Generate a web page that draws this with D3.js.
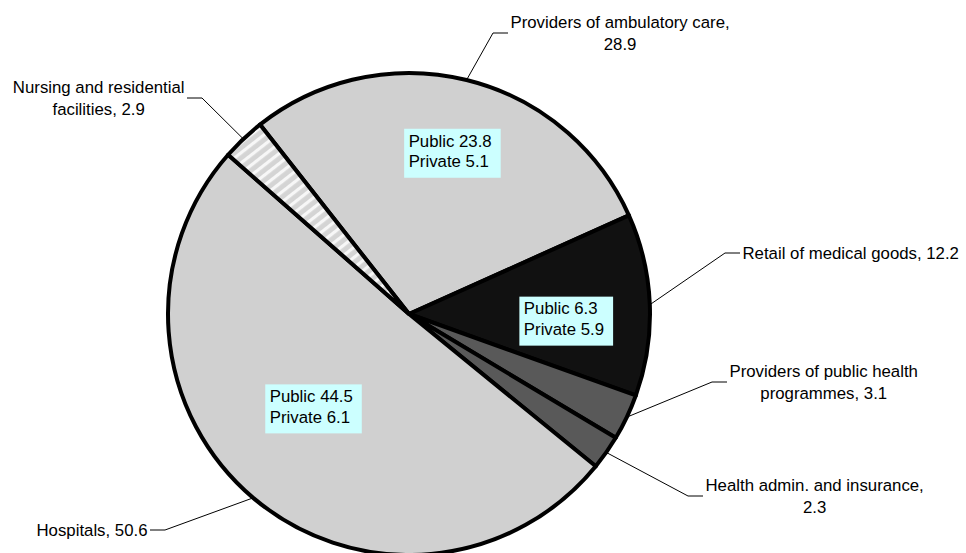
<!DOCTYPE html>
<html>
<head>
<meta charset="utf-8">
<script src="https://cdn.jsdelivr.net/npm/d3@7"></script>
<style>
  html, body { margin: 0; padding: 0; background: #ffffff; }
  svg { display: block; }
  text { font-family: Arial, "Liberation Sans", sans-serif; fill: #000; }
</style>
</head>
<body>
<svg id="chart" width="966" height="553"></svg>
<script>
// ---- data ----
const categories = [
  "Providers of ambulatory care",
  "Retail of medical goods",
  "Providers of public health programmes",
  "Health admin. and insurance",
  "Hospitals",
  "Nursing and residential facilities"
];
const values = [28.9, 12.2, 3.1, 2.3, 50.6, 2.9];
const publicValues = [23.8, 6.3, null, null, 44.5, null];
const privateValues = [5.1, 5.9, null, null, 6.1, null];
const labelLines = [
  ["Providers of ambulatory care,", "28.9"],
  ["Retail of medical goods, 12.2"],
  ["Providers of public health", "programmes, 3.1"],
  ["Health admin. and insurance,", "2.3"],
  ["Hospitals, 50.6"],
  ["Nursing and residential", "facilities, 2.9"]
];

// ---- layout / style ----
const W = 966, H = 553;
const cx = 409, cy = 314, R = 241;
const startDeg = -38.2;
const fontSize = 16.8;
const fills = ["#d0d0d0", "#111111", "#595959", "#595959", "#d0d0d0", "url(#hatch)"];
// leader elbow positions and label side
const elbows = [
  {x: 493, y: 33, side: "right"},
  {x: 725, y: 253, side: "right"},
  {x: 712, y: 382, side: "right"},
  {x: 688, y: 496, side: "right"},
  {x: 165, y: 530, side: "left"},
  {x: 202, y: 98, side: "left"}
];
// inner value boxes: angle offset from slice mid-angle (deg) and distance from centre
const boxPlace = [
  {dAng: 1.3, dist: 166.5},
  {dAng: 4.8, dist: 157.4},
  null, null,
  {dAng: 4.9, dist: 134.6},
  null
];

const svg = d3.select("#chart");
const defs = svg.append("defs");
const pat = defs.append("pattern")
  .attr("id", "hatch").attr("patternUnits", "userSpaceOnUse")
  .attr("width", 8).attr("height", 8)
  .attr("patternTransform", "rotate(52)");
pat.append("rect").attr("width", 8).attr("height", 8).attr("fill", "#d4d4d4");
pat.append("rect").attr("x", 0).attr("width", 3.2).attr("height", 8).attr("fill", "#f7f7f7");

const g = svg.append("g").attr("transform", `translate(${cx},${cy})`);

const rad = d => d * Math.PI / 180;
const pie = d3.pie().sort(null).value(d => d.v)
  .startAngle(rad(startDeg)).endAngle(rad(startDeg) + 2 * Math.PI);
const data = categories.map((c, i) => ({c, v: values[i], i}));
const arcs = pie(data);
const arc = d3.arc().innerRadius(0).outerRadius(R);

g.selectAll("path.slice").data(arcs).enter().append("path")
  .attr("class", "slice")
  .attr("d", arc)
  .attr("fill", d => fills[d.data.i])
  .attr("stroke", "#000").attr("stroke-width", 4).attr("stroke-linejoin", "round");

const polar = (a, r) => [Math.sin(a) * r, -Math.cos(a) * r];

// leader lines & outer labels
const lh = 21.5;
arcs.forEach(d => {
  const i = d.data.i;
  const mid = (d.startAngle + d.endAngle) / 2;
  const [ex, ey] = polar(mid, R);
  const e = elbows[i];
  const hx = e.side === "right" ? e.x + 15 : e.x - 15;
  svg.append("polyline")
    .attr("points", `${cx + ex},${cy + ey} ${e.x},${e.y} ${hx},${e.y}`)
    .attr("fill", "none").attr("stroke", "#000").attr("stroke-width", 1);
  const lines = labelLines[i];
  const tg = svg.append("g");
  const texts = lines.map((ln, k) => tg.append("text")
    .attr("font-size", fontSize)
    .attr("y", e.y + (k - (lines.length - 1) / 2) * lh + fontSize * 0.35)
    .text(ln));
  const widths = texts.map(t => t.node().getComputedTextLength());
  const bw = d3.max(widths);
  const left = e.side === "right" ? hx + 2.5 : hx - 2.5 - bw;
  texts.forEach((t, k) => t.attr("x", left + bw / 2).attr("text-anchor", "middle"));
});

// inner value boxes
arcs.forEach(d => {
  const i = d.data.i;
  const bp = boxPlace[i];
  if (!bp || publicValues[i] == null) return;
  const mid = (d.startAngle + d.endAngle) / 2 + rad(bp.dAng);
  const [bx, by] = polar(mid, bp.dist);
  const bg = g.append("g");
  const rect = bg.append("rect").attr("fill", "#ccffff");
  const l1 = bg.append("text").attr("font-size", fontSize).text("Public " + publicValues[i]);
  const l2 = bg.append("text").attr("font-size", fontSize).text("Private " + privateValues[i]);
  const tw = Math.max(l1.node().getComputedTextLength(), l2.node().getComputedTextLength());
  const bw = tw + 13.5, bh = 49;
  const x0 = bx - bw / 2, y0 = by - bh / 2;
  rect.attr("x", x0).attr("y", y0).attr("width", bw).attr("height", bh);
  l1.attr("x", x0 + 4.5).attr("y", y0 + 17.8);
  l2.attr("x", x0 + 4.5).attr("y", y0 + 38.4);
});
</script>
</body>
</html>
